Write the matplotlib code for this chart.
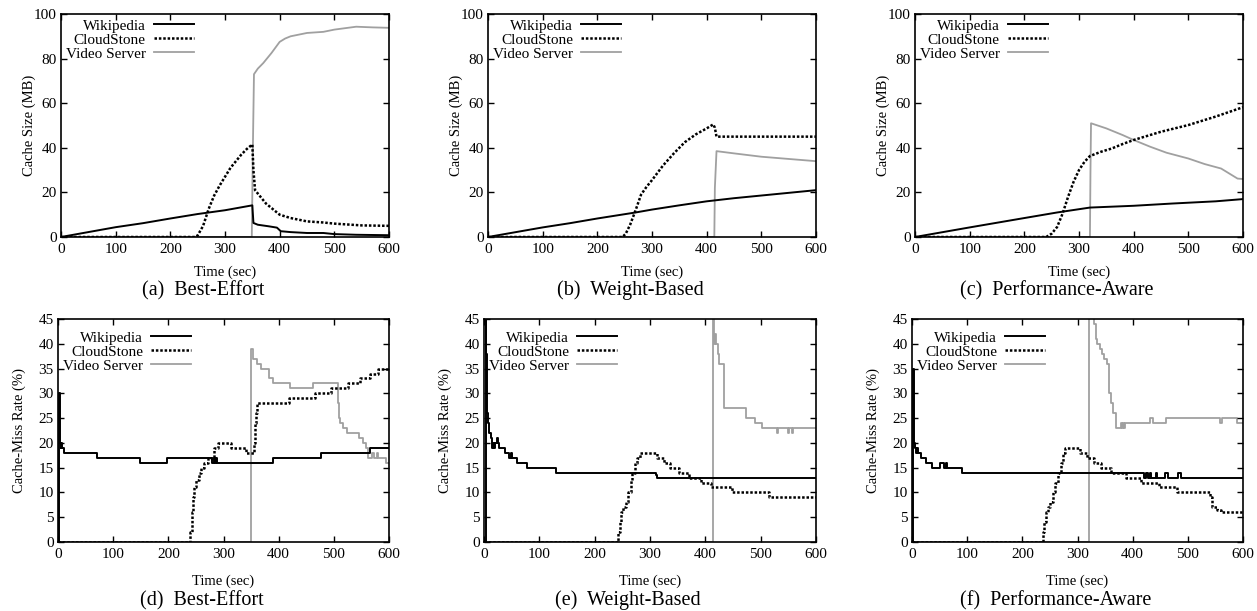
import matplotlib
matplotlib.use("Agg")
import matplotlib.pyplot as plt

plt.rcParams['font.family'] = ['Liberation Serif', 'DejaVu Serif']

FIG_W, FIG_H = 1257, 611
GRAY = "#a0a0a0"

# ---- cache size (MB) ----
wiki_a_t = [0, 50, 100, 150, 200, 250, 300, 350, 352, 360, 380, 395, 402, 420, 450, 480, 500, 540, 600]
wiki_a_y = [0, 2.2, 4.4, 6.2, 8.3, 10.3, 12, 14.2, 6.3, 5.5, 4.8, 4.2, 2.6, 2.2, 1.8, 1.8, 1.3, 1.0, 0.8]
cloud_a_t = [0, 245, 250, 260, 270, 280, 290, 300, 310, 320, 330, 340, 350, 352, 355, 365, 375, 390, 400, 420, 450, 480, 500, 550, 600]
cloud_a_y = [0, 0, 0.7, 5, 12.5, 18.5, 23, 27, 31, 34, 37, 39.5, 41.5, 30, 21, 18, 15, 12, 10, 8.5, 7, 6.5, 6, 5.2, 5]
video_a_t = [0, 349, 351, 353, 360, 370, 385, 400, 410, 420, 450, 480, 500, 540, 570, 600]
video_a_y = [0, 0, 40, 73, 75.5, 78, 82.5, 87.5, 89, 90, 91.5, 92, 93, 94.3, 94, 93.8]

wiki_b_t = [0, 100, 150, 200, 270, 300, 350, 400, 450, 500, 550, 600]
wiki_b_y = [0, 4.3, 6.2, 8.3, 11, 12.3, 14.2, 16, 17.4, 18.6, 19.8, 21]
cloud_b_t = [0, 246, 252, 260, 270, 280, 290, 300, 320, 340, 350, 360, 380, 400, 412, 415, 418, 600]
cloud_b_y = [0, 0, 1.5, 5.5, 12, 19, 22.5, 25.5, 32, 37.5, 40, 42.5, 46, 48.7, 50.5, 49, 45, 45]
video_b_t = [0, 414, 415, 418, 450, 500, 550, 600]
video_b_y = [0, 0, 22, 38.5, 37.5, 36, 35, 34]

wiki_c_t = [0, 100, 200, 260, 320, 400, 470, 550, 600]
wiki_c_y = [0, 4.3, 8.5, 11, 13.2, 14, 15, 16, 17]
cloud_c_t = [0, 240, 250, 260, 270, 280, 290, 300, 310, 320, 340, 360, 380, 400, 450, 500, 550, 600]
cloud_c_y = [0, 0, 1.5, 4.5, 10.5, 18, 24.7, 30, 33.7, 36.3, 38.2, 39.7, 41.7, 43.5, 47.2, 50.2, 54, 58.2]
video_c_t = [0, 320, 321, 322, 350, 380, 400, 430, 460, 500, 530, 560, 590, 600]
video_c_y = [0, 0, 30, 51, 48.7, 45.7, 43.5, 40.5, 37.8, 35.2, 32.7, 30.7, 26.2, 26]

# ---- cache-miss rate (%) ----
wiki_d_t = [0, 1, 3, 5, 6, 8, 10, 70, 148, 198, 279, 282, 284, 286, 288, 290, 390, 476, 565, 600]
wiki_d_y = [0, 30, 20, 19, 20, 19, 18, 17, 16, 17, 16, 17, 16, 17, 16, 16, 17, 18, 19, 19]
cloud_d_t = [0, 240, 242, 244, 246, 250, 255, 260, 265, 272, 282, 290, 313, 340, 355, 357, 359, 361, 418, 465, 495, 525, 548, 565, 580, 592, 600]
cloud_d_y = [0, 2, 6, 9, 11, 12.5, 14, 15, 16, 17, 19, 20, 19, 18, 20, 24, 26, 28, 29, 30, 31, 32, 33, 34, 35, 35, 35]
video_d_t = [0, 350, 354, 361, 368, 382, 390, 420, 462, 508, 510, 512, 516, 524, 546, 552, 558, 562, 570, 572, 578, 580, 595, 600]
video_d_y = [0, 39, 37, 36, 35, 33, 32, 31, 32, 28, 25, 24, 23, 22, 21, 20, 19, 17, 18, 17, 18, 17, 16, 16]

wiki_e_t = [0, 3, 4, 5, 6, 7, 9, 12, 14, 16, 18, 20, 24, 26, 28, 38, 45, 48, 50, 52, 60, 78, 130, 310, 312, 600]
wiki_e_y = [0, 50, 38, 30, 26, 24, 22, 21, 19, 20, 19, 20, 21, 20, 19, 18, 17, 18, 17, 17, 16, 15, 14, 13.5, 13, 13]
cloud_e_t = [0, 243, 245, 248, 252, 256, 260, 265, 268, 272, 277, 282, 313, 325, 337, 352, 370, 392, 410, 448, 515, 600]
cloud_e_y = [0, 2, 4, 6, 7, 8, 10, 12.5, 14, 16, 17, 18, 17, 16, 15, 14, 13, 12, 11, 10, 9, 9]
video_e_t = [0, 413, 416, 418, 420, 422, 425, 434, 473, 490, 502, 530, 532, 550, 552, 556, 558, 566, 600]
video_e_y = [0, 50, 40, 42, 40, 38, 36, 27, 25, 24, 23, 22, 23, 22, 23, 22, 23, 23, 23]

wiki_f_t = [0, 1, 3, 5, 7, 9, 11, 17, 25, 37, 50, 58, 62, 64, 90, 420, 425, 428, 432, 434, 442, 444, 458, 464, 482, 488, 600]
wiki_f_y = [0, 35, 20, 19, 18, 19, 18, 17, 16, 15, 16, 15, 16, 15, 14, 13, 14, 13, 14, 13, 14, 13, 14, 13, 14, 13, 13]
cloud_f_t = [0, 237, 240, 243, 246, 250, 255, 260, 265, 270, 274, 278, 305, 318, 330, 342, 360, 388, 415, 448, 480, 540, 543, 552, 560, 600]
cloud_f_y = [0, 2, 4, 6, 7, 8, 10, 12, 14, 16, 18, 19, 18, 17, 16, 15, 14, 13, 12, 11, 10, 9, 7, 6.5, 6, 6]
video_f_t = [0, 321, 330, 333, 336, 340, 344, 348, 353, 358, 361, 365, 370, 378, 380, 382, 384, 386, 432, 437, 460, 558, 562, 590, 600]
video_f_y = [0, 50, 44, 41, 40, 39, 38, 37, 36, 30, 28, 26, 23, 24, 23, 24, 23, 24, 25, 24, 25, 24, 25, 24, 24]

captions = ["(a)  Best-Effort", "(b)  Weight-Based", "(c)  Performance-Aware",
            "(d)  Best-Effort", "(e)  Weight-Based", "(f)  Performance-Aware"]

# (left, top, right, bottom) in pixels
boxes = [(61, 14, 389, 237), (488, 14, 816, 237), (915, 14, 1243, 237),
         (58, 319, 389, 542), (484, 319, 816, 542), (912, 319, 1243, 542)]

panels = [
    (wiki_a_t, wiki_a_y, cloud_a_t, cloud_a_y, video_a_t, video_a_y),
    (wiki_b_t, wiki_b_y, cloud_b_t, cloud_b_y, video_b_t, video_b_y),
    (wiki_c_t, wiki_c_y, cloud_c_t, cloud_c_y, video_c_t, video_c_y),
    (wiki_d_t, wiki_d_y, cloud_d_t, cloud_d_y, video_d_t, video_d_y),
    (wiki_e_t, wiki_e_y, cloud_e_t, cloud_e_y, video_e_t, video_e_y),
    (wiki_f_t, wiki_f_y, cloud_f_t, cloud_f_y, video_f_t, video_f_y),
]

fig = plt.figure(figsize=(FIG_W / 100, FIG_H / 100), dpi=100)

for i, (box, data, cap) in enumerate(zip(boxes, panels, captions)):
    l, t, r, b = box
    w, h = r - l, b - t
    ax = fig.add_axes([l / FIG_W, 1 - b / FIG_H, w / FIG_W, h / FIG_H])
    top_row = i < 3
    ds = "default" if top_row else "steps-post"
    wt, wy, ct, cy, vt, vy = data

    ax.plot(wt, wy, color="black", lw=1.4, drawstyle=ds, label="Wikipedia", zorder=3)
    ax.plot(ct, cy, color="black", lw=1.8, ls=(0, (1.0, 0.75)), drawstyle=ds,
            label="CloudStone", zorder=2)
    ax.plot(vt, vy, color=GRAY, lw=1.3, drawstyle=ds, label="Video Server", zorder=1)

    ax.set_xlim(0, 600)
    ax.set_xticks(range(0, 601, 100))
    if top_row:
        ax.set_ylim(0, 100)
        ax.set_yticks(range(0, 101, 20))
        ax.set_ylabel("Cache Size (MB)", fontsize=10.5)
        ax.yaxis.set_label_coords(-25 / w, 0.5)
    else:
        ax.set_ylim(0, 45)
        ax.set_yticks(range(0, 46, 5))
        ax.set_ylabel("Cache-Miss Rate (%)", fontsize=10.5)
        ax.yaxis.set_label_coords(-32 / w, 0.5)

    ax.set_xlabel("Time (sec)", fontsize=10.5)
    ax.xaxis.set_label_coords(0.5, -29 / h if top_row else -33 / h)

    ax.tick_params(direction="in", top=True, right=True, length=4, width=1,
                   labelsize=11)
    ax.tick_params(axis="x", pad=4)
    ax.tick_params(axis="y", pad=3)
    for sp in ax.spines.values():
        sp.set_linewidth(1.2)

    leg_top = 5 if top_row else 12
    ax.legend(loc="upper right", bbox_to_anchor=(133 / w, 1 - leg_top / h),
              frameon=False, markerfirst=False, fontsize=11,
              handlelength=2.6, handletextpad=0.55, labelspacing=0.02,
              borderpad=0, borderaxespad=0)

    cx = (l + r) / 2 - 22
    cy_base = 295 if top_row else 605
    fig.text(cx / FIG_W, 1 - cy_base / FIG_H, cap, ha="center", va="baseline",
             fontsize=14.5)

fig.savefig("out.png", dpi=100)
